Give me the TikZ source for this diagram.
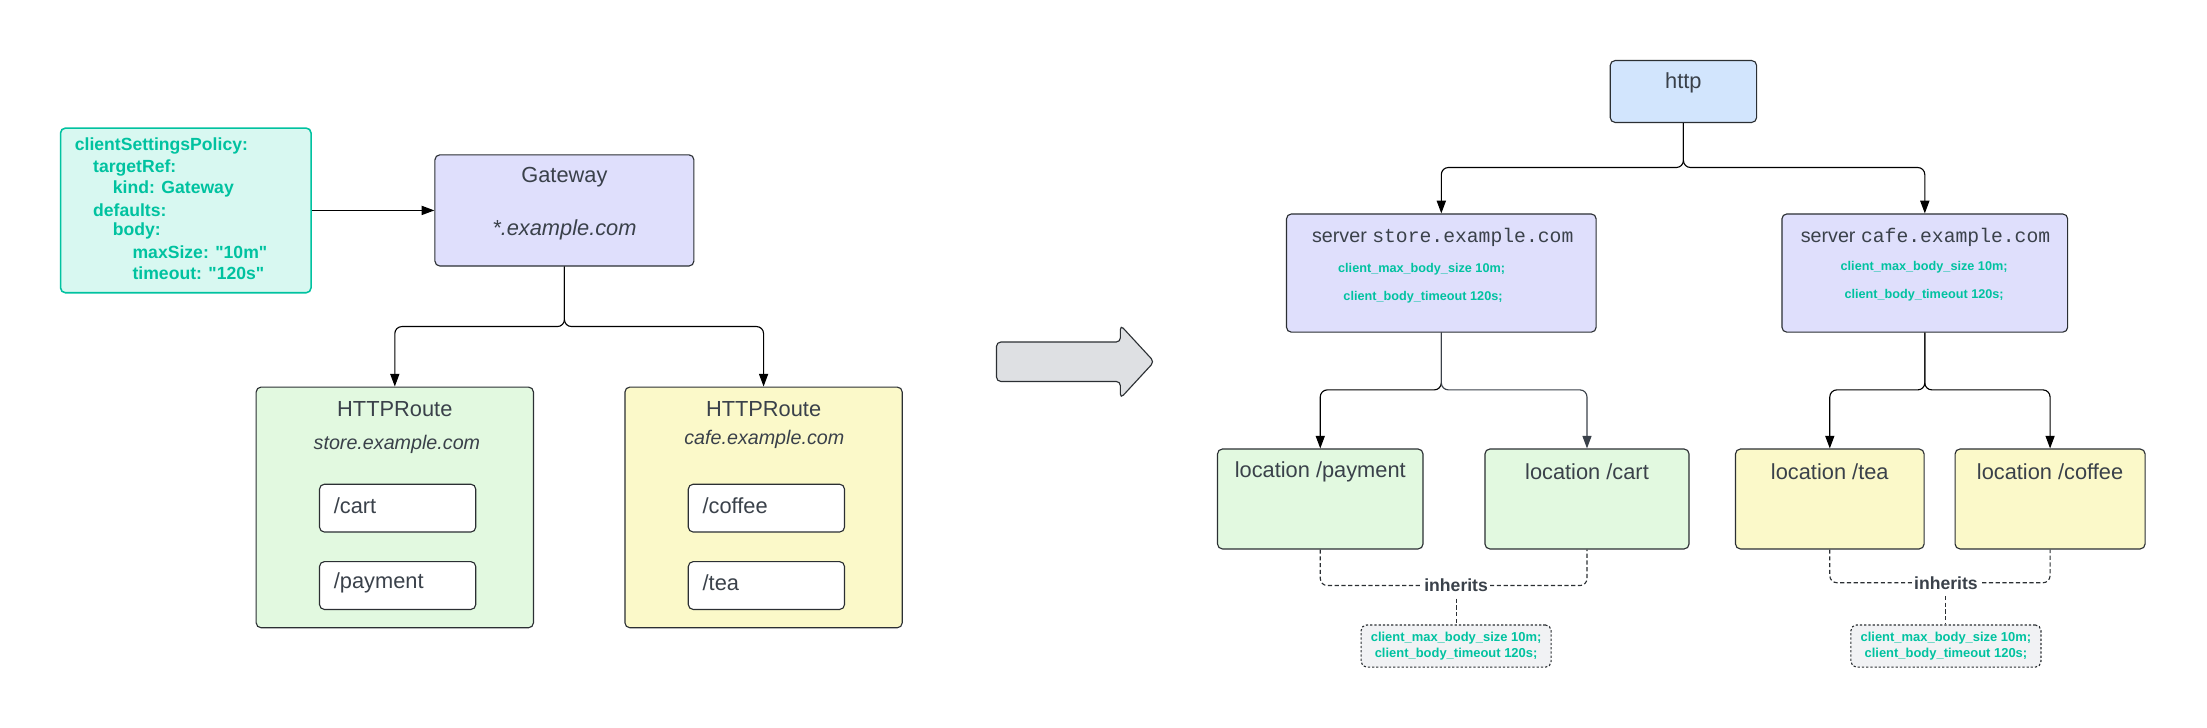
\documentclass[tikz,border=0pt]{standalone}
\usepackage{fontspec}
\setmainfont{Liberation Sans}
\setmonofont{Liberation Mono}
\newfontfamily\polfont{Liberation Sans}[Ligatures=TeXOff]
\usetikzlibrary{arrows.meta}
\definecolor{txt}{HTML}{3A414A}
\definecolor{tealc}{HTML}{00C2A0}
\definecolor{polfill}{HTML}{D8F8F1}
\definecolor{lav}{HTML}{DFDFFC}
\definecolor{blu}{HTML}{D2E5FD}
\definecolor{grn}{HTML}{E2F9E0}
\definecolor{yel}{HTML}{FBF9C9}
\definecolor{gry}{HTML}{F1F2F4}
\definecolor{arrg}{HTML}{DEE0E3}
\definecolor{linec}{HTML}{2B2F33}
\begin{document}
\begin{tikzpicture}[x=1pt,y=-1pt,
  box/.style={draw=linec, line width=0.8pt, rounded corners=3.5pt, inner sep=0pt},
  lbl/.style={text=txt, inner sep=0pt},
  fbig/.style={font=\fontsize{15.5}{18}\selectfont},
  fmid/.style={font=\fontsize{14}{17}\selectfont},
  fitl/.style={font=\itshape\fontsize{14}{17}\selectfont},
  fpol/.style={font=\polfont\bfseries\fontsize{12.5}{15}\selectfont, text=tealc, inner sep=0pt, anchor=west},
  fgrn/.style={font=\bfseries\fontsize{9}{10}\selectfont, text=tealc, inner sep=0pt},
  fgrs/.style={font=\bfseries\fontsize{9.2}{11}\selectfont, text=tealc, inner sep=0pt, align=center},
  conn/.style={draw=black, line width=0.8pt, rounded corners=5pt, -{Triangle[length=9pt,width=6.5pt]}},
  dconn/.style={draw=linec, line width=0.8pt, dash pattern=on 3pt off 1.8pt, rounded corners=5pt},
  ]
\useasboundingbox (0,0) rectangle (1568,517.2);

% ---------- left side ----------
\node[box, draw=tealc, line width=1.1pt, fill=polfill, minimum width=178pt, minimum height=117pt] (pol) at (132,149.5) {};
\foreach \t/\x/\y [count=\i] in {clientSettingsPolicy:/53/104, targetRef:/66/119, kind: Gateway/80/134, defaults:/66/149, body:/80/164, maxSize: "10m"/94/179, timeout: "120s"/94/194}
  \node[fpol] (p\i) at (\x,\y) {\t};

\node[box, fill=lav, minimum width=184pt, minimum height=79pt] (gw) at (401,149.5) {};
\node[lbl, fbig] (gwt) at (401,126) {Gateway};
\node[lbl, fbig, font=\itshape\fontsize{15.5}{18}\selectfont] (gwh) at (401,163) {*.example.com};

\node[box, fill=grn, minimum width=197pt, minimum height=171pt] (rtL) at (280.5,360.5) {};
\node[lbl, fbig] (rtLt) at (280.5,291) {HTTPRoute};
\node[lbl, fitl] (rtLh) at (282,316) {store.example.com};
\node[box, fill=white, minimum width=111pt, minimum height=34pt] (cartp) at (282.5,361) {};
\node[lbl, fbig, anchor=west] (cartt) at (237,359) {/cart};
\node[box, fill=white, minimum width=111pt, minimum height=34pt] (payp) at (282.5,416) {};
\node[lbl, fbig, anchor=west] (payt) at (237,414) {/payment};

\node[box, fill=yel, minimum width=197pt, minimum height=171pt] (rtR) at (542.5,360.5) {};
\node[lbl, fbig] (rtRt) at (542.5,291) {HTTPRoute};
\node[lbl, fitl] (rtRh) at (543,312) {cafe.example.com};
\node[box, fill=white, minimum width=111pt, minimum height=34pt] (cofp) at (544.5,361) {};
\node[lbl, fbig, anchor=west] (coft) at (499,359) {/coffee};
\node[box, fill=white, minimum width=111pt, minimum height=34pt] (teap) at (544.5,416) {};
\node[lbl, fbig, anchor=west] (teat) at (499,414) {/tea};

\draw[conn] (pol.east) -- (gw.west);
\coordinate (gsplit) at (401,232);
\draw[conn] (gw.south) -- (gsplit) -| (rtL.north);
\draw[conn] (gw.south) -- (gsplit) -| (rtR.north);

% ---------- big arrow ----------
\draw[draw=linec, line width=0.8pt, fill=arrg, rounded corners=3pt]
  (708,243) -- (796,243) -- (796,231) -- (820,257) -- (796,283) -- (796,271) -- (708,271) -- cycle;

% ---------- right side ----------
\node[box, fill=blu, minimum width=104pt, minimum height=44pt] (http) at (1196,65) {};
\node[lbl, fbig] (httpt) at (1196,59) {http};

\node[box, fill=lav, minimum width=220pt, minimum height=84pt] (srvS) at (1024,194) {};
\node[lbl, fmid] (srvSt) at (1025,169) {server \texttt{store.example.com}};
\node[fgrn] (srvS1) at (1010,191) {client\_max\_body\_size 10m;};
\node[fgrn] (srvS2) at (1011,211) {client\_body\_timeout 120s;};

\node[box, fill=lav, minimum width=203pt, minimum height=84pt] (srvC) at (1367.5,194) {};
\node[lbl, fmid] (srvCt) at (1368,169) {server \texttt{cafe.example.com}};
\node[fgrn] (srvC1) at (1367,190) {client\_max\_body\_size 10m;};
\node[fgrn] (srvC2) at (1367,210) {client\_body\_timeout 120s;};

\coordinate (hsplit) at (1196,119);
\draw[conn] (http.south) -- (hsplit) -| (srvS.north);
\draw[conn] (http.south) -- (hsplit) -| (srvC.north);

\node[box, fill=grn, minimum width=146pt, minimum height=71pt] (pay) at (938,354.5) {};
\node[lbl, fbig] (payl) at (938,335) {location /payment};
\node[box, fill=grn, minimum width=145pt, minimum height=71pt] (cart) at (1127.5,354.5) {};
\node[lbl, fbig] (cartl) at (1127.5,335) {location /cart};
\node[box, fill=yel, minimum width=134pt, minimum height=71pt] (tea) at (1300,354.5) {};
\node[lbl, fbig] (teal) at (1300,335) {location /tea};
\node[box, fill=yel, minimum width=135pt, minimum height=71pt] (cof) at (1456.5,354.5) {};
\node[lbl, fbig] (cofl) at (1456.5,335) {location /coffee};

\coordinate (ssplit) at (1024,277);
\draw[conn] (srvS.south) -- (ssplit) -| (pay.north);
\draw[conn, draw=txt] (srvS.south) -- (ssplit) -| (cart.north);
\coordinate (csplit) at (1367.5,277);
\draw[conn] (srvC.south) -- (csplit) -| (tea.north);
\draw[conn] (srvC.south) -- (csplit) -| (cof.north);

% inherits (left)
\coordinate (iL) at (1034.5,416);
\draw[dconn] (pay.south) |- (iL) -| (cart.south);
\node[lbl, fill=white, inner sep=1.5pt, font=\bfseries\fontsize{12.5}{14}\selectfont] (inhL) at (iL) {inherits};
\node[box, fill=gry, dash pattern=on 1.6pt off 1.4pt, rounded corners=4pt, minimum width=135pt, minimum height=30pt] (ibL) at (1034.5,459) {};
\node[fgrs] (ibLt) at (ibL.center) {client\_max\_body\_size 10m;\\client\_body\_timeout 120s;};
\draw[dconn] ([yshift=-3pt]inhL.south) -- (ibL.north);

% inherits (right)
\coordinate (iR) at (1382.5,414);
\draw[dconn] (tea.south) |- (iR) -| (cof.south);
\node[lbl, fill=white, inner sep=1.5pt, font=\bfseries\fontsize{12.5}{14}\selectfont] (inhR) at (iR) {inherits};
\node[box, fill=gry, dash pattern=on 1.6pt off 1.4pt, rounded corners=4pt, minimum width=135pt, minimum height=30pt] (ibR) at (1382.5,459) {};
\node[fgrs] (ibRt) at (ibR.center) {client\_max\_body\_size 10m;\\client\_body\_timeout 120s;};
\draw[dconn] ([yshift=-3pt]inhR.south) -- (ibR.north);
\end{tikzpicture}
\end{document}
